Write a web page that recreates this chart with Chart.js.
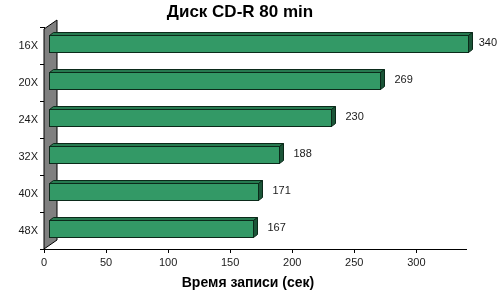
<!DOCTYPE html>
<html>
<head>
<meta charset="utf-8">
<script src="https://cdn.jsdelivr.net/npm/chart.js@4/dist/chart.umd.min.js"></script>
<style>
  html, body { margin: 0; padding: 0; background: #fff; }
  #wrap { width: 500px; height: 293px; }
</style>
</head>
<body>
<div id="wrap"><canvas id="chart" width="500" height="293"></canvas></div>
<script>
// данные
const speeds = ['16X', '20X', '24X', '32X', '40X', '48X'];
const writeTimes = [340, 269, 230, 188, 171, 167];
const xTicks = [0, 50, 100, 150, 200, 250, 300];

const chartTitle = 'Диск CD-R 80 min';
const axisTitle = 'Время записи (сек)';

const FONT = '"Liberation Sans", Arial, sans-serif';

// цвета 3D-столбцов
const faceColor = '#339966';
const topColor = '#277a50';
const sideColor = '#1b5538';
const edgeColor = '#0b2a1a';

// глубина
const dx = 4, dy = 3;

// серая стенка слева
const wallPlugin = {
    id: 'wall',
    beforeDatasetsDraw(chart) {
        const { ctx, chartArea } = chart;
        const l = chartArea.left, t = chartArea.top + 2, b = chartArea.bottom;
        const wx = 13, wy = 9;
        ctx.save();
        ctx.beginPath();
        ctx.moveTo(l, t);
        ctx.lineTo(l + wx, t - wy);
        ctx.lineTo(l + wx, b - wy);
        ctx.lineTo(l, b);
        ctx.closePath();
        ctx.fillStyle = '#808080';
        ctx.fill();
        ctx.strokeStyle = '#000';
        ctx.lineWidth = 1;
        ctx.stroke();
        ctx.restore();
    }
};

// объёмные столбцы и подписи значений
const barsPlugin = {
    id: 'bars3d',
    afterDatasetsDraw(chart) {
        const { ctx } = chart;
        const meta = chart.getDatasetMeta(0);
        ctx.save();
        ctx.lineWidth = 1;
        ctx.strokeStyle = edgeColor;
        ctx.lineJoin = 'miter';
        meta.data.forEach((el, i) => {
            const p = el.getProps(['x', 'y', 'base', 'height'], true);
            const x0 = Math.round(p.base + 4) + 0.5;
            const x1 = Math.round(p.x + 2) + 0.5;
            const y0 = Math.round(p.y - p.height / 2 - 2) + 0.5;
            const y1 = Math.round(p.y + p.height / 2 - 2) + 0.5;

            // верх
            ctx.beginPath();
            ctx.moveTo(x0, y0);
            ctx.lineTo(x0 + dx, y0 - dy);
            ctx.lineTo(x1 + dx, y0 - dy);
            ctx.lineTo(x1, y0);
            ctx.closePath();
            ctx.fillStyle = topColor;
            ctx.fill();
            ctx.stroke();

            // бок
            ctx.beginPath();
            ctx.moveTo(x1, y0);
            ctx.lineTo(x1 + dx, y0 - dy);
            ctx.lineTo(x1 + dx, y1 - dy);
            ctx.lineTo(x1, y1);
            ctx.closePath();
            ctx.fillStyle = sideColor;
            ctx.fill();
            ctx.stroke();

            // фронт
            ctx.fillStyle = faceColor;
            ctx.fillRect(x0, y0, x1 - x0, y1 - y0);
            ctx.strokeRect(x0, y0, x1 - x0, y1 - y0);

            // подпись
            ctx.font = '11px ' + FONT;
            ctx.fillStyle = '#1a1a1a';
            ctx.textBaseline = 'middle';
            ctx.textAlign = 'left';
            const txt = String(writeTimes[i]);
            let tx = x1 + dx + 10;
            const w = ctx.measureText(txt).width;
            if (tx + w > chart.width - 3) tx = chart.width - 3 - w;
            ctx.fillText(txt, tx, p.y - 3);
        });
        ctx.restore();
    }
};

// заголовки
const titlesPlugin = {
    id: 'titles',
    afterDraw(chart) {
        const { ctx } = chart;
        ctx.save();
        ctx.fillStyle = '#000';
        ctx.textAlign = 'center';
        ctx.textBaseline = 'middle';
        ctx.font = 'bold 17px ' + FONT;
        ctx.fillText(chartTitle, 240, 12);
        ctx.font = 'bold 14px ' + FONT;
        ctx.fillText(axisTitle, 248, 283);
        ctx.restore();
    }
};

const ctx = document.getElementById('chart').getContext('2d');
new Chart(ctx, {
    type: 'bar',
    data: {
        labels: speeds,
        datasets: [{
            data: writeTimes,
            backgroundColor: 'rgba(0,0,0,0)',
            borderWidth: 0,
            categoryPercentage: 1,
            barPercentage: 0.44
        }]
    },
    options: {
        indexAxis: 'y',
        responsive: false,
        animation: false,
        layout: { padding: { top: 27, right: 34, left: 0, bottom: 0 } },
        plugins: {
            legend: { display: false },
            tooltip: { enabled: false },
            title: { display: false }
        },
        scales: {
            x: {
                min: 0,
                max: 340,
                afterBuildTicks(scale) {
                    scale.ticks = xTicks.map(v => ({ value: v }));
                },
                afterFit(scale) { scale.height = 44; },
                grid: { drawOnChartArea: false, drawTicks: true, tickLength: 4, color: '#000' },
                border: { display: true, color: '#000' },
                ticks: { color: '#1a1a1a', padding: 3, font: { family: FONT, size: 11 }, maxRotation: 0 }
            },
            y: {
                afterFit(scale) { scale.width = 44; },
                grid: { drawOnChartArea: false, drawTicks: true, tickLength: 4, color: '#000', offset: true },
                border: { display: true, color: '#000' },
                ticks: { color: '#1a1a1a', padding: 2, font: { family: FONT, size: 11 } }
            }
        }
    },
    plugins: [wallPlugin, barsPlugin, titlesPlugin]
});
</script>
</body>
</html>
